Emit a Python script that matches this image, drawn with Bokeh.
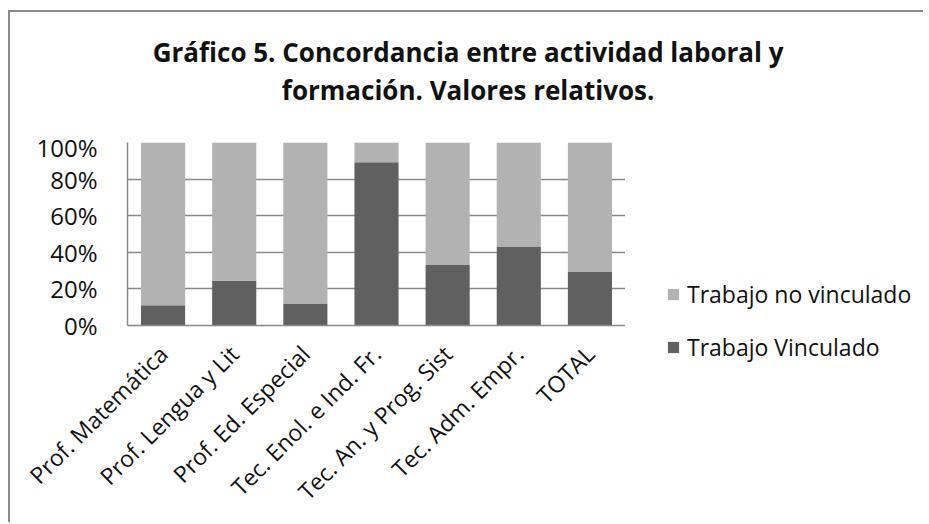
from bokeh.plotting import figure
from bokeh.layouts import column, row
from bokeh.models import (Legend, LegendItem, NumeralTickFormatter, FixedTicker, Label, Range1d)
from bokeh.embed import file_html
from bokeh.resources import INLINE
from math import pi

categories = ["Prof. Matemática", "Prof. Lengua y Lit", "Prof. Ed. Especial",
              "Tec. Enol. e Ind. Fr.", "Tec. An. y Prog. Sist", "Tec. Adm. Empr.", "TOTAL"]
vinculado = [0.111, 0.245, 0.120, 0.892, 0.330, 0.432, 0.292]
no_vinculado = [round(1 - v, 3) for v in vinculado]
series_names = ["Trabajo Vinculado", "Trabajo no vinculado"]
title_lines = ["Gráfico 5. Concordancia  entre actividad laboral y",
               "formación.  Valores relativos."]
y_ticks = [0, 0.2, 0.4, 0.6, 0.8, 1.0]

FONT = "Open Sans"
DARK = "#606060"
LIGHT = "#b2b2b2"
GRID = "#888888"
TXT = "#111111"

data = {"cat": categories, "v": vinculado, "nv": no_vinculado}

# ---- title strip ----
TW, TH = 913, 118
pt = figure(width=TW, height=TH, output_backend="svg", toolbar_location=None,
            x_range=Range1d(0, 1), y_range=Range1d(0, 1),
            x_axis_location=None, y_axis_location=None, min_border=0)
pt.outline_line_color = None
pt.grid.visible = False
for i, t in enumerate(title_lines):
    pt.add_layout(Label(x=461, y=79 - i * 38, x_units="screen", y_units="screen",
                        text=t, text_align="center", text_baseline="alphabetic",
                        text_font=FONT, text_font_style="bold", text_font_size="26px",
                        text_color=TXT))

# ---- main chart ----
MW, MH = 615, 392
p = figure(x_range=categories, y_range=(0, 1), width=MW, height=MH,
           output_backend="svg", toolbar_location=None,
           min_border_left=117, min_border_right=0,
           min_border_top=12, min_border_bottom=197)
p.outline_line_color = None
p.vbar_stack(["v", "nv"], x="cat", width=0.62, color=[DARK, LIGHT],
             line_color=None, source=data)

p.xgrid.grid_line_color = None
p.ygrid.grid_line_color = GRID
p.ygrid.grid_line_width = 1.5
p.yaxis.ticker = FixedTicker(ticks=y_ticks)
p.yaxis.formatter = NumeralTickFormatter(format="0%")
p.yaxis.major_tick_line_color = None
p.yaxis.minor_tick_line_color = None
p.yaxis.axis_line_color = GRID
p.yaxis.axis_line_width = 1.5
p.yaxis.major_label_standoff = 24
p.yaxis.major_label_text_font = FONT
p.yaxis.major_label_text_font_size = "24px"
p.yaxis.major_label_text_color = TXT

p.xaxis.axis_line_color = GRID
p.xaxis.axis_line_width = 1.5
p.xaxis.major_tick_line_color = None
p.xaxis.minor_tick_line_color = None
p.xaxis.major_label_orientation = pi / 4
p.xaxis.major_label_standoff = 18
p.xaxis.major_label_text_font = FONT
p.xaxis.major_label_text_font_size = "23px"
p.xaxis.major_label_text_color = TXT

# ---- legend panel ----
LW, LH = 298, 392
pl = figure(x_range=categories, y_range=Range1d(5, 6), width=LW, height=LH,
            output_backend="svg", toolbar_location=None,
            x_axis_location=None, y_axis_location=None, min_border=0)
pl.frame_align = False
pl.outline_line_color = None
pl.grid.visible = False
rl = pl.vbar_stack(["v", "nv"], x="cat", width=0.62, color=[DARK, LIGHT],
                   line_color=None, source=data)
legend = Legend(items=[LegendItem(label=series_names[1], renderers=[rl[1]]),
                       LegendItem(label=series_names[0], renderers=[rl[0]])],
                location=(41, 159))
legend.border_line_color = None
legend.background_fill_alpha = 0
legend.padding = 0
legend.margin = 0
legend.spacing = 21
legend.label_height = 30
legend.glyph_width = 14
legend.glyph_height = 14
legend.label_standoff = 7
legend.label_text_font = FONT
legend.label_text_font_size = "23px"
legend.label_text_color = TXT
pl.add_layout(legend, "center")

layout = column(pt, row(p, pl, spacing=0), spacing=0)
layout.margin = (10, 0, 0, 8)
layout.styles = {"border-top": "2px solid #8a8a8a", "border-left": "2px solid #8a8a8a"}

open("out.html", "w").write(file_html(layout, INLINE))
